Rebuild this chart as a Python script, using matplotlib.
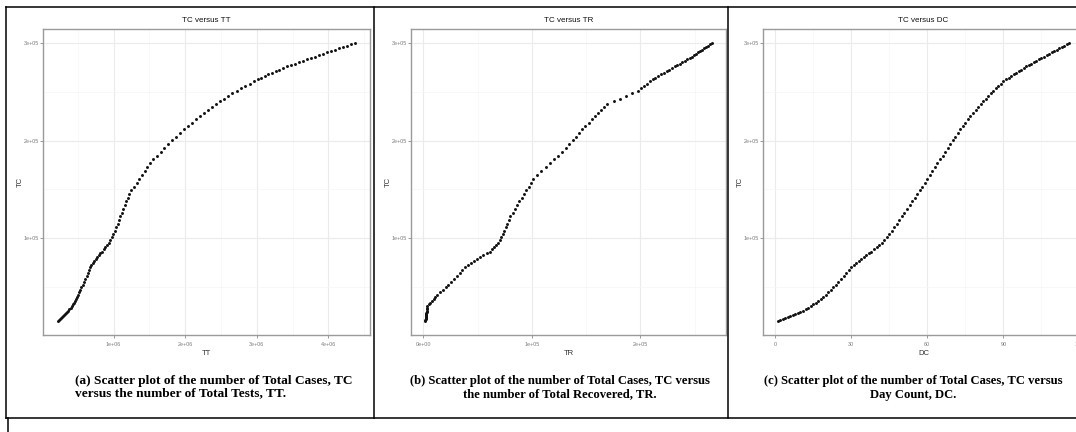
#!/usr/bin/env python3
"""Three ggplot-style scatter panels (TC vs TT / TR / DC) laid out in a table."""

import matplotlib
matplotlib.use("Agg")
import matplotlib.pyplot as plt
from matplotlib.lines import Line2D
from matplotlib.ticker import MultipleLocator, FuncFormatter
import numpy as np

W, H = 1076, 432

# ── data ────────────────────────────────────────────────────────────
# total cases, thousands, one value per day
tc_k = [
    15.2, 16.2, 17.2, 18.2, 19.3, 20.4, 21.5, 22.6, 23.7, 24.9,
    25.9, 27.4, 28.9, 30.5, 32.2, 34.0, 35.9, 37.9, 40.0, 42.2,
    44.6, 47.1, 49.7, 52.4, 55.2, 58.1, 61.1, 64.1, 67.1, 70.1,
    72.6, 74.8, 76.8, 78.7, 80.6, 82.5, 84.4, 86.4, 88.5, 90.7, 93.0, 95.4,
    98.2, 101.2, 104.4, 107.8, 111.4, 115.0, 118.7, 122.4, 126.2, 130.0,
    133.8, 137.6, 141.4, 145.2, 149.0, 152.8, 156.6,
    160.6, 164.6, 168.6, 172.6, 176.6, 180.6, 184.6, 188.5, 192.4, 196.3,
    200.1, 203.9, 207.6, 211.3, 215.0,
    218.4, 221.7, 225.0, 228.2, 231.3, 234.3, 237.2, 240.0, 242.8, 245.5,
    248.2, 250.8, 253.4, 255.9, 258.3, 260.6,
    262.5, 264.3, 266.0, 267.7, 269.4, 271.0, 272.6, 274.2, 275.8, 277.3,
    278.8, 280.3,
    281.7, 283.1, 284.5, 285.9, 287.3, 288.7, 290.1, 291.5, 292.9, 294.3,
    295.7, 297.1, 298.5, 299.9,
]

# total tests, millions
tt_m = [
    0.220, 0.234, 0.248, 0.262, 0.277, 0.292, 0.307, 0.322, 0.337, 0.352,
    0.367, 0.382, 0.397, 0.412, 0.427, 0.442, 0.457, 0.472, 0.487, 0.502,
    0.517, 0.532, 0.549, 0.567, 0.585, 0.603, 0.621, 0.639, 0.656, 0.672,
    0.690, 0.709, 0.728, 0.748, 0.768, 0.791, 0.814, 0.837, 0.860, 0.883, 0.906, 0.929,
    0.952, 0.972, 0.993, 1.013, 1.034, 1.054, 1.075, 1.095, 1.116, 1.136,
    1.157, 1.178, 1.199, 1.220, 1.240, 1.280, 1.320,
    1.357, 1.395, 1.432, 1.470, 1.507, 1.545, 1.600, 1.655, 1.710, 1.765,
    1.820, 1.875, 1.930, 1.985, 2.040,
    2.095, 2.150, 2.205, 2.260, 2.315, 2.370, 2.425, 2.480, 2.540, 2.600,
    2.660, 2.720, 2.780, 2.840, 2.900, 2.960,
    3.011, 3.062, 3.113, 3.164, 3.215, 3.266, 3.317, 3.368, 3.419, 3.476,
    3.533, 3.590,
    3.646, 3.702, 3.758, 3.814, 3.870, 3.926, 3.982, 4.038, 4.094, 4.150,
    4.206, 4.262, 4.318, 4.375,
]

# total recovered, thousands
tr_k = [
    1.8, 1.9, 2.0, 2.1, 2.2, 2.4, 2.5, 2.7, 2.8, 3.0, 3.2, 3.4, 3.6, 3.8,
    5.0, 6.5, 8.0, 9.5, 11.0, 12.6,
    15.2, 17.8, 20.4, 23.0, 25.6, 28.2, 30.8, 33.4, 36.0, 38.6, 41.2, 43.8, 46.4, 49.0,
    52.2, 55.4, 58.6, 61.8,
    63.7, 65.5, 67.3, 69.0,
    70.4, 71.8, 73.2, 74.6, 76.0, 77.4, 78.8, 80.2,
    82.2, 84.3, 86.4, 88.5, 90.6, 92.7, 94.8, 96.9, 99.0, 101.1,
    105.0, 108.8, 112.6, 116.3, 120.0, 123.7, 127.4, 131.0, 134.6, 138.2,
    141.0, 143.8, 146.6, 149.4, 152.2, 155.0, 157.8, 160.6, 163.4, 166.2, 169.0,
    175.5,
    181.0, 186.8, 192.5, 198.2,
    200.8, 203.4, 206.0, 208.6, 211.2, 213.8, 216.4, 219.0, 221.6, 224.2, 226.8,
    229.3, 231.6, 233.9, 236.2, 238.5, 240.8, 243.1, 245.4,
    247.7, 249.5, 251.3, 253.1, 254.9, 256.7, 258.5, 260.3, 262.1, 263.9, 265.7,
]

tc = np.array(tc_k) * 1e3
tt = np.array(tt_m) * 1e6
tr = np.array(tr_k) * 1e3
dc = np.arange(1, len(tc) + 1)

captions = [
    "(a) Scatter plot of the number of Total Cases, TC\nversus the number of Total Tests, TT.",
    "(b) Scatter plot of the number of Total Cases, TC versus\nthe number of Total Recovered, TR.",
    "(c) Scatter plot of the number of Total Cases, TC versus\nDay Count, DC.",
]

# ── figure ──────────────────────────────────────────────────────────
fig = plt.figure(figsize=(W / 100, H / 100), dpi=100)
SANS = "Liberation Sans"
SERIF = "Liberation Serif"


def px_axes(x0, y0, x1, y1):
    return fig.add_axes([x0 / W, 1 - y1 / H, (x1 - x0) / W, (y1 - y0) / H])


def px_line(x0, y0, x1, y1):
    fig.add_artist(Line2D([x0 / W, x1 / W], [1 - y0 / H, 1 - y1 / H],
                          transform=fig.transFigure, color="black", linewidth=1.1))


sci = FuncFormatter(lambda v, _: f"{v:.0e}")


def panel(ax, x, y, title, xlabel, xmajor, xfmt):
    ax.scatter(x, y, s=4.5, color="#111111", linewidths=0, zorder=3)
    for s in ax.spines.values():
        s.set_color("#9a9a9a")
        s.set_linewidth(1.0)
    ax.yaxis.set_major_locator(MultipleLocator(1e5))
    ax.yaxis.set_minor_locator(MultipleLocator(5e4))
    ax.yaxis.set_major_formatter(sci)
    ax.xaxis.set_major_locator(MultipleLocator(xmajor))
    ax.xaxis.set_minor_locator(MultipleLocator(xmajor / 2))
    ax.xaxis.set_major_formatter(xfmt)
    ax.grid(True, which="major", color="#ebebeb", linewidth=0.8)
    ax.grid(True, which="minor", color="#f5f5f5", linewidth=0.5)
    ax.set_axisbelow(True)
    ax.tick_params(which="major", length=2, width=0.6, color="#8a8a8a",
                   labelsize=3.9, labelcolor="#7a7a7a")
    ax.tick_params(axis="y", pad=0.8)
    ax.tick_params(axis="x", pad=3)
    ax.tick_params(which="minor", length=0)
    for lab in ax.get_xticklabels() + ax.get_yticklabels():
        lab.set_fontfamily(SANS)
    ax.set_title(title, fontsize=5.8, pad=5, color="#111111", fontfamily=SANS)
    ax.set_xlabel(xlabel, fontsize=5.5, labelpad=2.5, color="#333333", fontfamily=SANS)
    ax.set_ylabel("TC", fontsize=5.5, labelpad=0, color="#333333", fontfamily=SANS)


ax_a = px_axes(43, 29, 370, 335)
panel(ax_a, tt, tc, "TC versus TT", "TT", 1e6, sci)

ax_b = px_axes(411, 29, 726, 335)
panel(ax_b, tr, tc, "TC versus TR", "TR", 1e5, sci)

ax_c = px_axes(763, 29, 1084, 335)
panel(ax_c, dc, tc, "TC versus DC", "DC", 30, FuncFormatter(lambda v, _: f"{v:.0f}"))

# captions
cap_kw = dict(fontfamily=SERIF, fontweight="bold", va="center")
fig.text(75 / W, 1 - 387 / H, captions[0], ha="left", fontsize=9.6, linespacing=1.05, **cap_kw)
fig.text(560 / W, 1 - 388 / H, captions[1], ha="center", multialignment="center",
         fontsize=9.1, linespacing=1.13, **cap_kw)
fig.text(913 / W, 1 - 388 / H, captions[2], ha="center", multialignment="center",
         fontsize=9.1, linespacing=1.13, **cap_kw)

# table borders
px_line(6, 7, W, 7)
px_line(6, 418, W, 418)
px_line(6, 7, 6, 418)
px_line(374, 7, 374, 418)
px_line(728, 7, 728, 418)
px_line(8, 418, 8, H)

fig.savefig("out.png", dpi=100)
